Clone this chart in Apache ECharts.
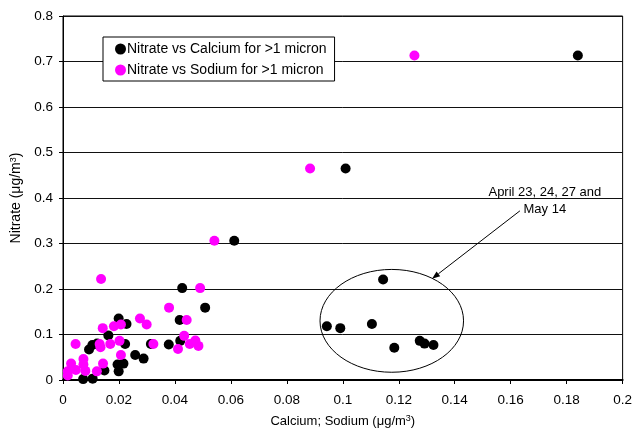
<!DOCTYPE html>
<html><head><meta charset="utf-8">
<script src="https://cdn.jsdelivr.net/npm/echarts@6/dist/echarts.min.js"></script>
<style>html,body{margin:0;padding:0;background:#fff}#c{width:635px;height:433px}</style>
</head><body><div id="c"></div>
<script>
const seriesNames = ['Nitrate vs Calcium for >1 micron', 'Nitrate vs Sodium for >1 micron'];
const calcium = [
  [0.184,0.713],[0.101,0.465],[0.0612,0.306],[0.0426,0.202],[0.0508,0.159],[0.0417,0.132],
  [0.0419,0.086],[0.0378,0.078],[0.0314,0.079],[0.0288,0.047],[0.0258,0.055],[0.0199,0.135],
  [0.0227,0.123],[0.0222,0.079],[0.0162,0.098],[0.0216,0.036],[0.0195,0.034],[0.0199,0.019],
  [0.0148,0.021],[0.0122,0.080],[0.0105,0.077],[0.0093,0.067],[0.0072,0.002],[0.0106,0.003],
  [0.1144,0.221],[0.0943,0.118],[0.0991,0.114],[0.1104,0.123],[0.1184,0.071],[0.1275,0.086],
  [0.1292,0.080],[0.1324,0.077]
];
const sodium = [
  [0.1256,0.713],[0.0883,0.465],[0.0541,0.306],[0.0136,0.222],[0.049,0.202],[0.0379,0.159],
  [0.0442,0.132],[0.0275,0.135],[0.0299,0.122],[0.0207,0.122],[0.0182,0.118],[0.0142,0.114],
  [0.0045,0.079],[0.0131,0.079],[0.0134,0.072],[0.0169,0.079],[0.0202,0.086],[0.0207,0.055],
  [0.0323,0.079],[0.0411,0.068],[0.0433,0.097],[0.0453,0.079],[0.0473,0.087],[0.0484,0.075],
  [0.0143,0.036],[0.0121,0.019],[0.0073,0.046],[0.0073,0.034],[0.008,0.020],[0.0029,0.036],
  [0.0046,0.022],[0.0017,0.019],[0.0017,0.010]
];
const annotationLines = ['April 23, 24, 27 and', 'May 14'];
// annotation geometry in data units
const ellipseCenter = [0.1175, 0.130];
const ellipseRadius = [0.02565, 0.113];
const arrowFrom = [0.1633, 0.3718];
const arrowTo = [0.1319, 0.2227];
const textAnchor = [0.1722, 0.394];

const font = 'Liberation Sans, Arial, sans-serif';
const chart = echarts.init(document.getElementById('c'), null, {renderer: 'canvas'});
const fmt = v => String(+v.toFixed(2));
chart.setOption({
  animation: false,
  backgroundColor: '#fff',
  textStyle: {fontFamily: font, color: '#000'},
  grid: {left: 63, right: 9, top: 16, bottom: 51, show: true, borderColor: '#000', borderWidth: 1},
  legend: {
    orient: 'vertical', left: 103, top: 37, itemWidth: 11, itemHeight: 11, itemGap: 7,
    padding: [5, 8, 4, 12], borderColor: '#000', borderWidth: 1, backgroundColor: '#fff',
    textStyle: {fontFamily: font, fontSize: 14, color: '#000', padding: [0, 0, 0, -4]},
    data: [{name: seriesNames[0], icon: 'circle'}, {name: seriesNames[1], icon: 'circle'}]
  },
  xAxis: {
    type: 'value', min: 0, max: 0.2, interval: 0.02,
    name: 'Calcium; Sodium (μg/m{sup|3})', nameLocation: 'middle', nameGap: 34,
    nameTextStyle: {fontFamily: font, fontSize: 13, color: '#000', rich: {sup: {fontSize: 9, verticalAlign: 'top', padding: [0,0,6,0], fontFamily: font}}},
    axisLine: {lineStyle: {color: '#000', width: 2}},
    axisTick: {show: true, length: 4, lineStyle: {color: '#000'}},
    axisLabel: {formatter: fmt, fontSize: 13.5, color: '#000', margin: 13, fontFamily: font},
    splitLine: {show: false}
  },
  yAxis: {
    type: 'value', min: 0, max: 0.8, interval: 0.1,
    name: 'Nitrate (μg/m{sup|3})', nameLocation: 'middle', nameGap: 29, nameRotate: 90,
    nameTextStyle: {fontFamily: font, fontSize: 14, color: '#000', rich: {sup: {fontSize: 9, fontFamily: font, padding: [0,0,6,0]}}},
    axisLine: {lineStyle: {color: '#000', width: 1}},
    axisTick: {show: true, length: 4, lineStyle: {color: '#000'}},
    axisLabel: {formatter: fmt, fontSize: 13.5, color: '#000', margin: 10, fontFamily: font},
    splitLine: {show: true, lineStyle: {color: '#111', width: 1}}
  },
  series: [
    {name: seriesNames[0], type: 'scatter', data: calcium, symbolSize: 10, itemStyle: {color: '#000', opacity: 1}, z: 2},
    {name: seriesNames[1], type: 'scatter', data: sodium, symbolSize: 10, itemStyle: {color: '#FF00FF', opacity: 1}, z: 3}
  ]
});

const P = p => chart.convertToPixel({gridIndex: 0}, p);
const c = P(ellipseCenter);
const rEdge = P([ellipseCenter[0] + ellipseRadius[0], ellipseCenter[1] + ellipseRadius[1]]);
const rx = rEdge[0] - c[0], ry = c[1] - rEdge[1];
const a0 = P(arrowFrom), a1 = P(arrowTo);
const ang = Math.atan2(a1[1] - a0[1], a1[0] - a0[0]);
const hl = 8, hw = 3;
const bx = a1[0] - hl * Math.cos(ang), by = a1[1] - hl * Math.sin(ang);
const nx = -Math.sin(ang), ny = Math.cos(ang);
const t = P(textAnchor);
chart.setOption({
  graphic: [
    {type: 'ellipse', shape: {cx: c[0], cy: c[1], rx: rx, ry: ry}, style: {fill: 'none', stroke: '#000', lineWidth: 1}, z: 10},
    {type: 'line', shape: {x1: a0[0], y1: a0[1], x2: bx, y2: by}, style: {stroke: '#000', lineWidth: 1}, z: 10},
    {type: 'polygon', shape: {points: [[a1[0], a1[1]], [bx + nx * hw, by + ny * hw], [bx - nx * hw, by - ny * hw]]}, style: {fill: '#000'}, z: 10},
    {type: 'text', x: t[0], y: t[1], style: {text: annotationLines.join('\n'), fill: '#000', font: '13px ' + font, align: 'center', verticalAlign: 'middle', lineHeight: 17}, z: 10}
  ]
});
</script></body></html>
